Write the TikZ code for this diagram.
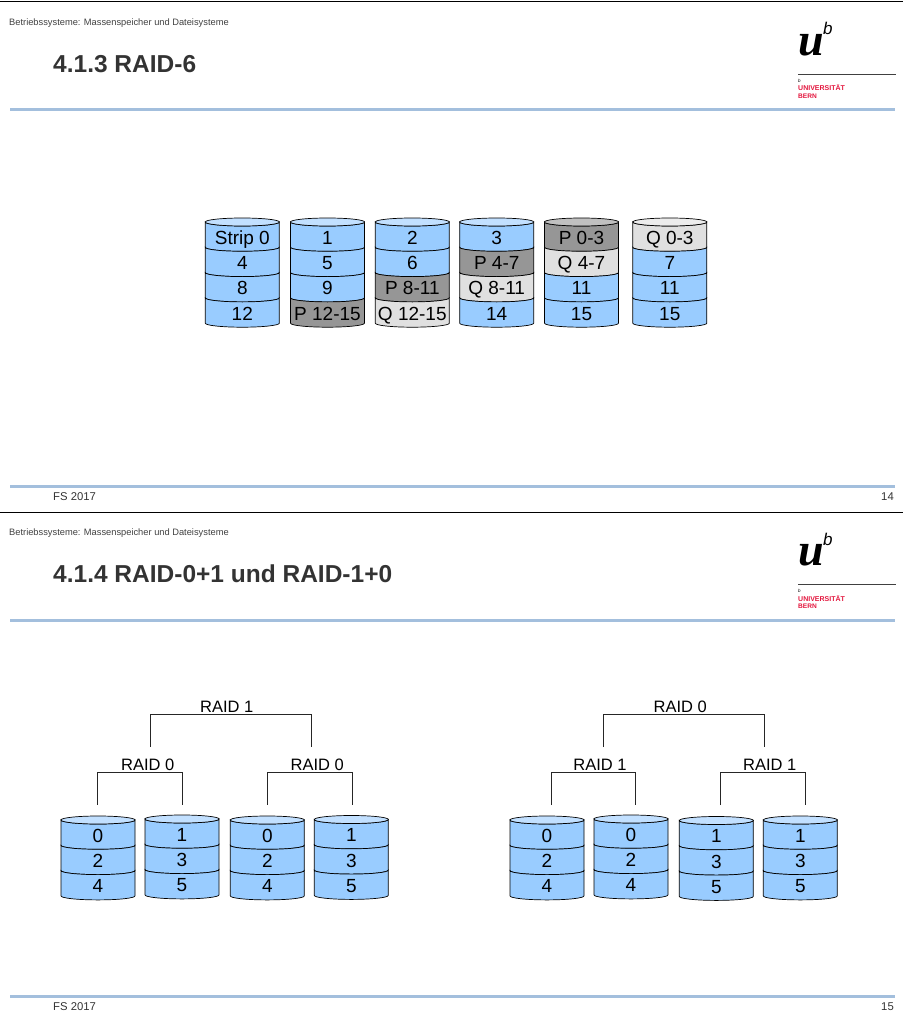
\documentclass[tikz,border=0pt]{standalone}
\usepackage{fontspec}
\setmainfont{Liberation Sans}
\newfontfamily\logofont{Liberation Serif}
\definecolor{diskblue}{HTML}{99CCFF}
\definecolor{diskp}{HTML}{969696}
\definecolor{diskq}{HTML}{E0E0E0}
\definecolor{rulecol}{HTML}{A3BFDD}
\definecolor{unired}{HTML}{E3173E}
\definecolor{titlecol}{HTML}{333333}
\tikzset{
  disklabel/.style={font=\fontsize{19}{21}\selectfont,inner sep=0pt,text height=13.5pt,text depth=0pt},
  raidlabel/.style={font=\fontsize{16.5}{18}\selectfont,inner sep=0pt,text height=11.8pt,text depth=0pt,anchor=south},
  bracketline/.style={draw=black!85,line width=0.7pt},
  slidetext/.style={inner sep=0pt,anchor=base west,text=titlecol}
}
% name, left edge, top of body, list of label/colour
\newcommand{\raiddisk}[4]{
  \foreach \lab/\col [count=\i] in {#4} {
    \pgfmathsetmacro{\ya}{#3-(\i-1)*25.3}
    \pgfmathsetmacro{\yb}{#3-\i*25.3}
    \draw[fill=\col,line width=0.7pt] (#2,\ya) arc[start angle=180,end angle=360,x radius=37,y radius=4]
      -- (#2+74,\yb) arc[start angle=360,end angle=180,x radius=37,y radius=4] -- cycle;
    \node[disklabel] (#1-\i) at (#2+37,\ya-15.6) {\lab};
    \ifnum\i=1
      \draw[fill=\col!60!white,line width=0.7pt] (#2+37,\ya) ellipse (37 and 4);
    \fi
  }
}
% name, text, label x, left foot, right foot, line y, foot y
\newcommand{\raidbracket}[7]{
  \node[raidlabel] (#1) at (#3,#6+1.6) {#2};
  \coordinate (#1-l) at (#4,#7);
  \coordinate (#1-r) at (#5,#7);
  \draw[bracketline] (#1-l) |- ([yshift=-1.6pt]#1.south) -| (#1-r);
}
% name, title, page number
\newcommand{\raidframe}[3]{
  \draw[black,line width=1pt] (0,-2) -- (903,-2);
  \draw[rulecol,line width=3pt] (10,-110) -- (895,-110);
  \draw[rulecol,line width=3pt] (10,-486) -- (895,-486);
  \node[slidetext,text=black!75,font=\fontsize{9.3}{10}\selectfont] (#1-head) at (9,-25.5) {Betriebssysteme: Massenspeicher und Dateisysteme};
  \node[slidetext,font=\fontsize{24.5}{28}\selectfont\bfseries] (#1-title) at (53,-72.8) {#2};
  \node[slidetext,font=\fontsize{11.3}{13}\selectfont] (#1-foot) at (53,-500) {FS 2017};
  \node[slidetext,anchor=base east,font=\fontsize{11.3}{13}\selectfont] (#1-page) at (894,-500) {#3};
  % logo
  \node[inner sep=0pt,anchor=base west,font=\logofont\fontsize{46}{50}\selectfont\bfseries\itshape] (#1-u) at (798,-55.5) {u};
  \node[inner sep=0pt,anchor=base west,font=\fontsize{17}{19}\selectfont\itshape] (#1-b) at (823,-35) {b};
  \draw[black!75,line width=0.9pt] (798,-74.5) -- (896,-74.5);
  \node[inner sep=0pt,anchor=base west,font=\fontsize{4.5}{5}\selectfont\itshape] (#1-sb) at (798,-82.5) {b};
  \node[inner sep=0pt,anchor=base west,text=unired,font=\fontsize{7}{8}\selectfont\bfseries] (#1-uni) at (798,-91) {UNIVERSITÄT};
  \node[inner sep=0pt,anchor=base west,text=unired,font=\fontsize{6.6}{8}\selectfont\bfseries] (#1-bern) at (798,-98.8) {BERN};
}

\begin{document}
\begin{tikzpicture}[x=1pt,y=1pt]
\useasboundingbox (0,0) rectangle (903,-1022);

% slide 14
\raidframe{one}{4.1.3 RAID-6}{14}
\raiddisk{sa}{205.3}{-222}{Strip 0/diskblue,4/diskblue,8/diskblue,12/diskblue}
\raiddisk{sb}{290.5}{-222}{1/diskblue,5/diskblue,9/diskblue,P 12-15/diskp}
\raiddisk{sc}{375.3}{-222}{2/diskblue,6/diskblue,P 8-11/diskp,Q 12-15/diskq}
\raiddisk{sd}{459.7}{-222}{3/diskblue,P 4-7/diskp,Q 8-11/diskq,14/diskblue}
\raiddisk{se}{544.5}{-222}{P 0-3/diskp,Q 4-7/diskq,11/diskblue,15/diskblue}
\raiddisk{sf}{632.8}{-222}{Q 0-3/diskq,7/diskblue,11/diskblue,15/diskblue}

% slide 15
\begin{scope}[shift={(0,-510)}]
\raidframe{two}{4.1.4 RAID-0+1 und RAID-1+0}{15}
\end{scope}

% left tree
\raidbracket{lt}{RAID 1}{226.7}{150.7}{311}{-714.4}{-746.7}
\raidbracket{la}{RAID 0}{147.7}{97.7}{182.7}{-772.4}{-804.7}
\raidbracket{lb}{RAID 0}{317.3}{267.3}{352.3}{-772.4}{-804.7}
\raiddisk{da}{61}{-820}{0/diskblue,2/diskblue,4/diskblue}
\raiddisk{db}{145}{-819}{1/diskblue,3/diskblue,5/diskblue}
\raiddisk{dc}{230.3}{-820}{0/diskblue,2/diskblue,4/diskblue}
\raiddisk{dd}{314.3}{-819.5}{1/diskblue,3/diskblue,5/diskblue}

% right tree
\raidbracket{rt}{RAID 0}{680.3}{603.3}{764.3}{-714.7}{-747}
\raidbracket{ra}{RAID 1}{600}{551}{635.7}{-772.7}{-805}
\raidbracket{rb}{RAID 1}{769.7}{720.3}{805.3}{-772.7}{-805}
\raiddisk{ea}{510}{-820}{0/diskblue,2/diskblue,4/diskblue}
\raiddisk{eb}{594}{-819}{0/diskblue,2/diskblue,4/diskblue}
\raiddisk{ec}{679.3}{-820.5}{1/diskblue,3/diskblue,5/diskblue}
\raiddisk{ed}{763.3}{-820}{1/diskblue,3/diskblue,5/diskblue}
\end{tikzpicture}
\end{document}
